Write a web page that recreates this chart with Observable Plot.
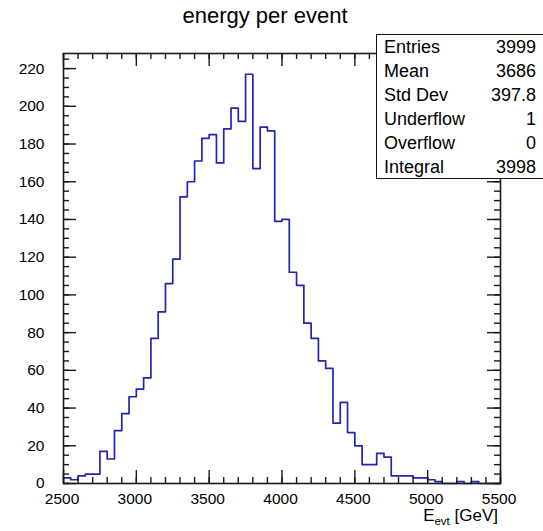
<!DOCTYPE html>
<html>
<head>
<meta charset="utf-8">
<script src="https://cdn.jsdelivr.net/npm/d3@7"></script>
<script src="https://cdn.jsdelivr.net/npm/@observablehq/plot@0.6"></script>
<style>
html, body { margin: 0; padding: 0; overflow: hidden; background: #fff; }
#wrap { position: relative; width: 543px; height: 531px; overflow: hidden;
  font-family: "Liberation Sans", Arial, Helvetica, sans-serif; color: #000; }
#wrap svg { position: absolute; left: 0; top: 0; }
#title { position: absolute; left: 0; width: 530px; top: 3px; text-align: center; font-size: 22px; line-height: 26px; }
#stats { position: absolute; left: 376px; top: 34px; width: 175px; height: 145px; box-sizing: border-box;
  border: 1.5px solid #111; background: #fff; }
#stats .row { position: relative; height: 24.1px; line-height: 24.1px; font-size: 18px; }
#stats .lab { position: absolute; left: 7px; }
#stats .val { position: absolute; right: 14px; }
#xtitle { position: absolute; right: 45px; top: 506px; font-size: 17px; line-height: 20px; white-space: nowrap; }
#xtitle sub { font-size: 11.5px; vertical-align: -4px; line-height: 0; }
</style>
</head>
<body>
<div id="wrap">
  <div id="title"></div>
  <div id="xtitle"></div>
  <div id="stats"></div>
</div>
<script>
// ---- data ----
const titleText = "energy per event";
const xTitleMain = "E";
const xTitleSub = "evt";
const xTitleUnit = " [GeV]";
const binStart = 2500;
const binWidth = 50;
const counts = [
  3, 2, 4, 5, 5, 17, 13, 28, 37, 46,
  50, 56, 77, 91, 106, 119, 152, 160, 171, 183,
  185, 170, 188, 199, 192, 217, 167, 189, 187, 139,
  140, 112, 105, 85, 77, 65, 61, 32, 43, 27,
  20, 10, 10, 16, 14, 4, 4, 4, 3, 3,
  2, 1, 0, 0, 1, 0, 1, 0, 0, 0
];
const xMajorTicks = [2500, 3000, 3500, 4000, 4500, 5000, 5500];
const xMinorTicks = [2500,2600,2700,2800,2900,3000,3100,3200,3300,3400,3500,3600,3700,3800,3900,4000,
  4100,4200,4300,4400,4500,4600,4700,4800,4900,5000,5100,5200,5300,5400,5500];
const yMajorTicks = [0, 20, 40, 60, 80, 100, 120, 140, 160, 180, 200, 220];
const yMinorTicks = [0,5,10,15,20,25,30,35,40,45,50,55,60,65,70,75,80,85,90,95,100,105,110,115,
  120,125,130,135,140,145,150,155,160,165,170,175,180,185,190,195,200,205,210,215,220,225];
const xDomain = [2500, 5500];
const yDomain = [0, 228];
const statLabels = ["Entries", "Mean", "Std Dev", "Underflow", "Overflow", "Integral"];
const statValues = ["3999", "3686", "397.8", "1", "0", "3998"];

// ---- layout ----
const W = 543, H = 531;
const mL = 63, mR = 43, mT = 53, mB = 48;
const fw = W - mL - mR, fh = H - mT - mB;
const majorLen = 13, minorLen = 6;
const ink = "#1a1a1a";
const lineColor = "#2323b4";

const pts = counts.map((c, i) => ({x: binStart + i * binWidth, y: c}));
pts.push({x: binStart + counts.length * binWidth, y: counts[counts.length - 1]});

const chart = Plot.plot({
  width: W, height: H,
  marginLeft: mL, marginRight: mR, marginTop: mT, marginBottom: mB,
  style: {fontFamily: '"Liberation Sans", Arial, Helvetica, sans-serif', fontSize: "15.5px", color: "#000", background: "transparent"},
  x: {domain: xDomain},
  y: {domain: yDomain},
  marks: [
    Plot.line(pts, {x: "x", y: "y", curve: "step-after", stroke: lineColor, strokeWidth: 1.7}),
    // inward ticks: left / right
    Plot.ruleY(yMinorTicks, {y: d => d, insetRight: fw - minorLen, stroke: ink, strokeWidth: 1.4}),
    Plot.ruleY(yMajorTicks, {y: d => d, insetRight: fw - majorLen, stroke: ink, strokeWidth: 1.4}),
    Plot.ruleY(yMinorTicks, {y: d => d, insetLeft: fw - minorLen, stroke: ink, strokeWidth: 1.4}),
    Plot.ruleY(yMajorTicks, {y: d => d, insetLeft: fw - majorLen, stroke: ink, strokeWidth: 1.4}),
    // inward ticks: bottom / top
    Plot.ruleX(xMinorTicks, {x: d => d, insetTop: fh - minorLen, stroke: ink, strokeWidth: 1.4}),
    Plot.ruleX(xMajorTicks, {x: d => d, insetTop: fh - majorLen, stroke: ink, strokeWidth: 1.4}),
    Plot.ruleX(xMinorTicks, {x: d => d, insetBottom: fh - minorLen, stroke: ink, strokeWidth: 1.4}),
    Plot.ruleX(xMajorTicks, {x: d => d, insetBottom: fh - majorLen, stroke: ink, strokeWidth: 1.4}),
    Plot.frame({stroke: ink, strokeWidth: 1.6}),
    Plot.axisY({ticks: yMajorTicks, tickSize: 0, tickPadding: 19, label: null, tickFormat: "d", fill: "#000"}),
    Plot.axisX({ticks: xMajorTicks, tickSize: 0, tickPadding: 9, label: null, tickFormat: "d", dx: -1.5, fill: "#000"})
  ]
});

const wrap = document.getElementById("wrap");
wrap.insertBefore(chart, wrap.firstChild);

document.getElementById("title").textContent = titleText;

const xt = document.getElementById("xtitle");
xt.appendChild(document.createTextNode(xTitleMain));
const sub = document.createElement("sub");
sub.textContent = xTitleSub;
xt.appendChild(sub);
xt.appendChild(document.createTextNode(xTitleUnit));

const stats = document.getElementById("stats");
statLabels.forEach((lab, i) => {
  const row = document.createElement("div");
  row.className = "row";
  const a = document.createElement("span"); a.className = "lab"; a.textContent = lab;
  const b = document.createElement("span"); b.className = "val"; b.textContent = statValues[i];
  row.appendChild(a); row.appendChild(b);
  stats.appendChild(row);
});
</script>
</body>
</html>
